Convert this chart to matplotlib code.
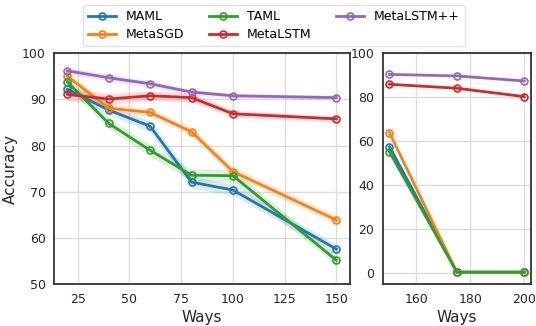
import matplotlib.pyplot as plt
import numpy as np

ways_left = [20, 40, 60, 80, 100, 150]
ways_right = [150, 175, 200]

maml = [92.2, 87.7, 84.2, 72.1, 70.4, 57.6]
metasgd = [95.0, 88.1, 87.2, 83.0, 74.4, 63.9]
taml = [93.8, 84.8, 79.0, 73.6, 73.5, 55.2]
metalstm = [91.1, 90.1, 90.8, 90.4, 86.9, 85.8]
metalstmpp = [96.2, 94.7, 93.4, 91.6, 90.8, 90.4]

maml_r = [57.6, 0.5, 0.5]
metasgd_r = [63.9, 0.5, 0.5]
taml_r = [55.2, 0.5, 0.5]
metalstm_r = [85.9, 84.1, 80.3]
metalstmpp_r = [90.4, 89.7, 87.4]

# half-width of the shaded bands (left panel)
maml_err = [1.0, 1.0, 1.2, 1.3, 1.2, 1.0]
metasgd_err = [1.0, 0.9, 0.9, 1.0, 1.0, 1.0]
taml_err = [1.0, 1.2, 1.3, 1.3, 1.5, 1.0]
metalstm_err = [1.5, 1.2, 1.0, 1.0, 0.8, 0.6]
metalstmpp_err = [0.8, 0.7, 0.7, 0.6, 0.5, 0.5]

names = ['MAML', 'MetaSGD', 'TAML', 'MetaLSTM', 'MetaLSTM++']
colors = ['#1f77b4', '#ff7f0e', '#2ca02c', '#d62728', '#9467bd']
left_vals = [maml, metasgd, taml, metalstm, metalstmpp]
right_vals = [maml_r, metasgd_r, taml_r, metalstm_r, metalstmpp_r]
errs = [maml_err, metasgd_err, taml_err, metalstm_err, metalstmpp_err]

plt.rcParams['font.family'] = 'DejaVu Sans'
fig = plt.figure(figsize=(5.36, 3.26), dpi=100)
ax1 = fig.add_axes([0.1007, 0.128, 0.552, 0.7086])
ax2 = fig.add_axes([0.714, 0.128, 0.2767, 0.7086])

handles = []
for name, c, v, e in zip(names, colors, left_vals, errs):
    v = np.array(v)
    e = np.array(e)
    ax1.fill_between(ways_left, v - e, v + e, color=c, alpha=0.15, lw=0)
    h, = ax1.plot(ways_left, v, color=c, lw=2, marker='o', ms=5,
                  mfc='none', mew=1.2, label=name)
    handles.append(h)

for name, c, v in zip(names, colors, right_vals):
    ax2.plot(ways_right, v, color=c, lw=2, marker='o', ms=5, mfc='none', mew=1.2)

ax1.set_ylim(50, 100)
ax1.set_xticks([25, 50, 75, 100, 125, 150])
ax1.set_yticks([50, 60, 70, 80, 90, 100])
ax2.set_ylim(-5, 100)
ax2.set_xticks([160, 180, 200])
ax2.set_yticks([0, 20, 40, 60, 80, 100])

for ax in (ax1, ax2):
    ax.grid(True, color='#dddddd', lw=1)
    ax.set_axisbelow(True)
    for s in ax.spines.values():
        s.set_color('#333333')
        s.set_linewidth(1.3)
    ax.tick_params(length=0, labelsize=9, colors='#262626', pad=6)
    ax.set_xlabel('Ways', fontsize=11, color='#262626', labelpad=3)

ax1.set_ylabel('Accuracy', fontsize=11, color='#262626', labelpad=3)

fig.legend(handles=handles, loc='upper center', bbox_to_anchor=(0.511, 1.003),
           ncol=3, fontsize=9, frameon=True, edgecolor='#dddddd',
           columnspacing=2.0, handlelength=2.2, handletextpad=0.8,
           borderpad=0.4, labelspacing=0.4, fancybox=True)

fig.savefig('out.png', dpi=100)
